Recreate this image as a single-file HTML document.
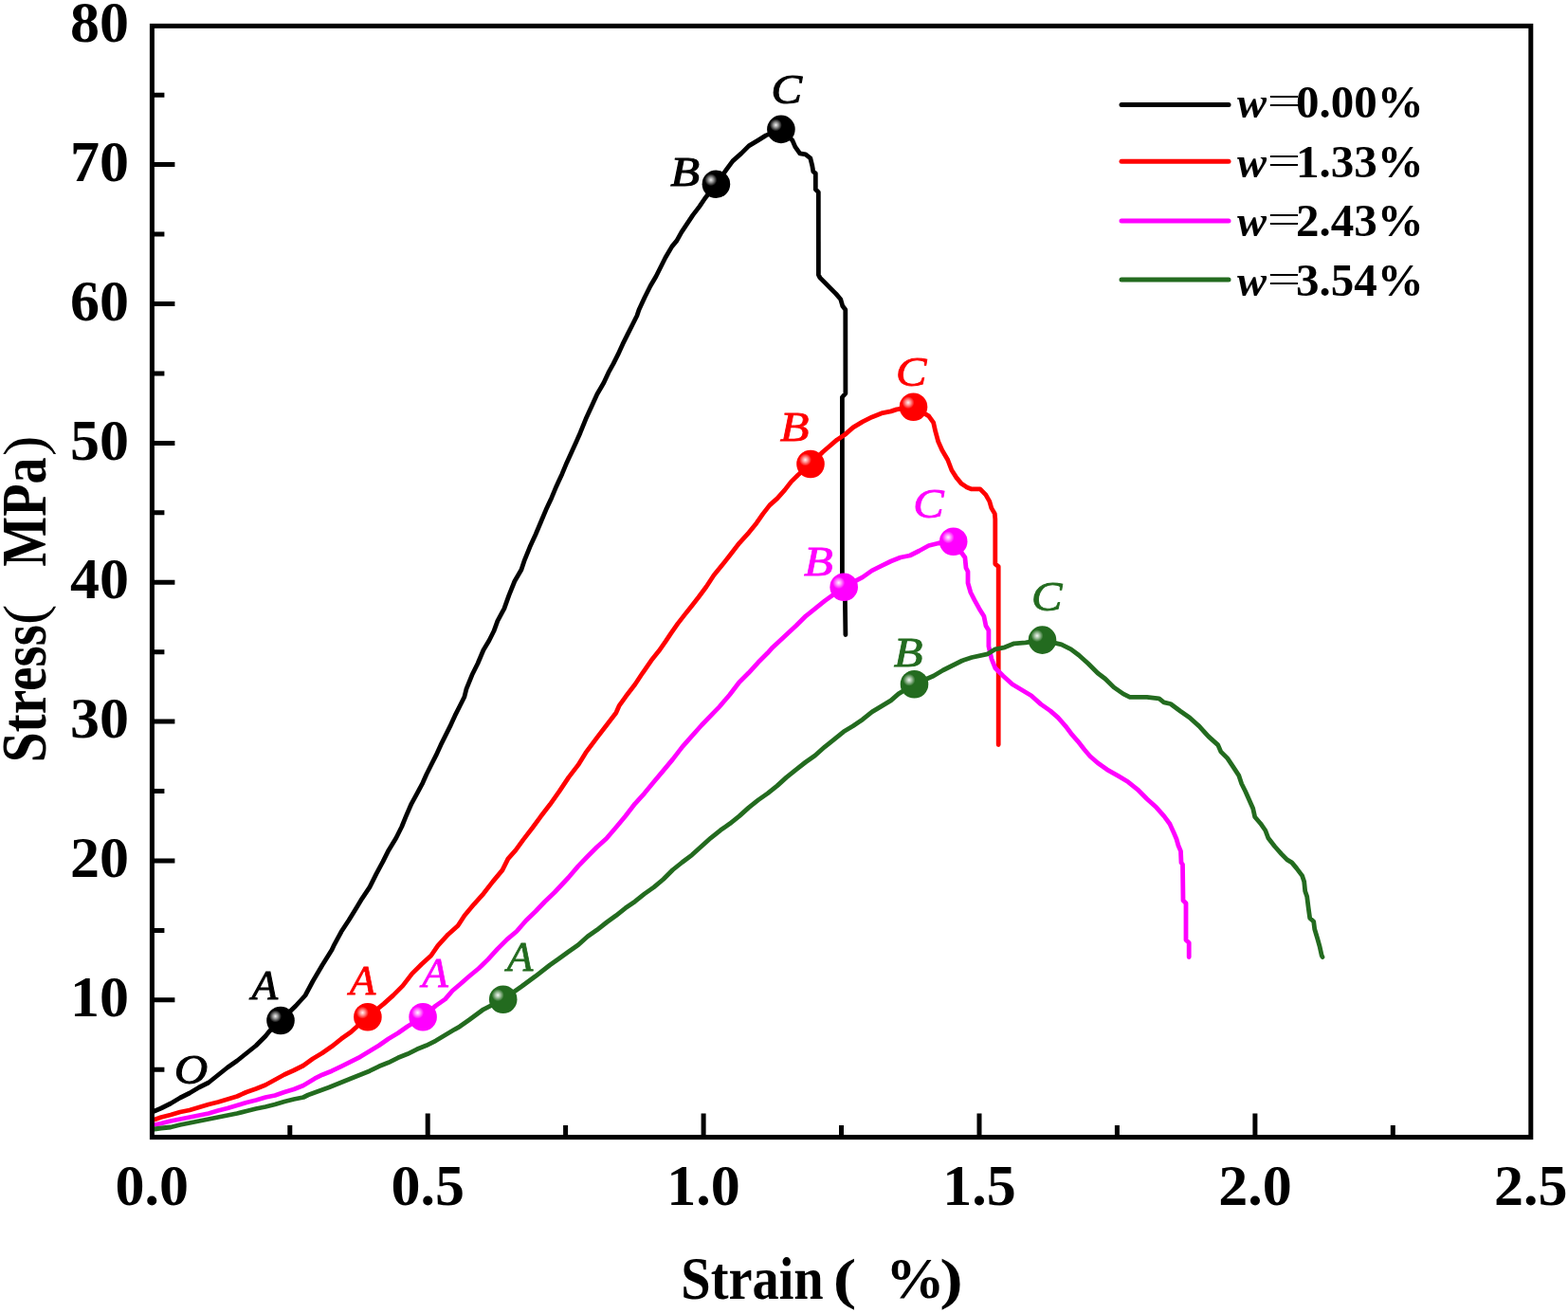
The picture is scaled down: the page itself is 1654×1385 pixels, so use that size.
<!DOCTYPE html>
<html><head><meta charset="utf-8"><title>Stress-strain curves</title>
<style>
html,body{margin:0;padding:0;background:#fff;}
svg{display:block;}
.t{font-family:"Liberation Serif","Times New Roman",serif;font-weight:bold;}
.l{font-family:"Liberation Serif","Times New Roman",serif;font-style:italic;}
</style></head><body>
<svg width="1654" height="1385" viewBox="0 0 1654 1385">
<defs>
<radialGradient id="hlk" cx="0.5" cy="0.5" r="0.5"><stop offset="0" stop-color="#fff" stop-opacity="0.95"/><stop offset="0.45" stop-color="#fff" stop-opacity="0.55"/><stop offset="1" stop-color="#fff" stop-opacity="0"/></radialGradient>
<radialGradient id="hlr" cx="0.5" cy="0.5" r="0.5"><stop offset="0" stop-color="#fff" stop-opacity="0.95"/><stop offset="0.45" stop-color="#fff" stop-opacity="0.55"/><stop offset="1" stop-color="#fff" stop-opacity="0"/></radialGradient>
<radialGradient id="hlm" cx="0.5" cy="0.5" r="0.5"><stop offset="0" stop-color="#fff" stop-opacity="0.95"/><stop offset="0.45" stop-color="#fff" stop-opacity="0.55"/><stop offset="1" stop-color="#fff" stop-opacity="0"/></radialGradient>
<radialGradient id="hlg" cx="0.5" cy="0.5" r="0.5"><stop offset="0" stop-color="#fff" stop-opacity="0.95"/><stop offset="0.45" stop-color="#fff" stop-opacity="0.55"/><stop offset="1" stop-color="#fff" stop-opacity="0"/></radialGradient>
</defs>
<rect width="1654" height="1385" fill="#fff"/>
<text x="160.3" y="1271.3" font-size="62" text-anchor="middle" style="font-family:'Liberation Serif','Times New Roman',serif;font-weight:bold">0.0</text>
<text x="451.2" y="1271.3" font-size="62" text-anchor="middle" style="font-family:'Liberation Serif','Times New Roman',serif;font-weight:bold">0.5</text>
<text x="742.1" y="1271.3" font-size="62" text-anchor="middle" style="font-family:'Liberation Serif','Times New Roman',serif;font-weight:bold">1.0</text>
<text x="1033.0" y="1271.3" font-size="62" text-anchor="middle" style="font-family:'Liberation Serif','Times New Roman',serif;font-weight:bold">1.5</text>
<text x="1323.9" y="1271.3" font-size="62" text-anchor="middle" style="font-family:'Liberation Serif','Times New Roman',serif;font-weight:bold">2.0</text>
<text x="1614.8" y="1271.3" font-size="62" text-anchor="middle" style="font-family:'Liberation Serif','Times New Roman',serif;font-weight:bold">2.5</text>
<text x="136" y="1072.0" font-size="62" text-anchor="end" style="font-family:'Liberation Serif','Times New Roman',serif;font-weight:bold">10</text>
<text x="136" y="925.2" font-size="62" text-anchor="end" style="font-family:'Liberation Serif','Times New Roman',serif;font-weight:bold">20</text>
<text x="136" y="778.3" font-size="62" text-anchor="end" style="font-family:'Liberation Serif','Times New Roman',serif;font-weight:bold">30</text>
<text x="136" y="631.4" font-size="62" text-anchor="end" style="font-family:'Liberation Serif','Times New Roman',serif;font-weight:bold">40</text>
<text x="136" y="484.6" font-size="62" text-anchor="end" style="font-family:'Liberation Serif','Times New Roman',serif;font-weight:bold">50</text>
<text x="136" y="337.7" font-size="62" text-anchor="end" style="font-family:'Liberation Serif','Times New Roman',serif;font-weight:bold">60</text>
<text x="136" y="190.8" font-size="62" text-anchor="end" style="font-family:'Liberation Serif','Times New Roman',serif;font-weight:bold">70</text>
<text x="136" y="43.9" font-size="62" text-anchor="end" style="font-family:'Liberation Serif','Times New Roman',serif;font-weight:bold">80</text>
<text transform="translate(718.31,1370.00) scale(0.8950,1.0000)" font-size="63.00" fill="#000" style="font-family:'Liberation Serif','Times New Roman',serif;font-weight:bold">Strain</text>
<text transform="translate(878.85,1369.30) scale(1.2400,1.0000)" font-size="59.50" fill="#000" style="font-family:'Liberation Serif','Times New Roman',serif;font-weight:bold">(</text>
<text transform="translate(934.29,1369.20) scale(1.0000,1.0000)" font-size="62.20" fill="#000" style="font-family:'Liberation Serif','Times New Roman',serif;font-weight:bold">%</text>
<text transform="translate(991.24,1369.30) scale(1.2400,1.0000)" font-size="59.50" fill="#000" style="font-family:'Liberation Serif','Times New Roman',serif;font-weight:bold">)</text>
<text transform="translate(47.70,804.23) rotate(-90) scale(0.8580,1.0000)" font-size="66.70" fill="#000" style="font-family:'Liberation Serif','Times New Roman',serif;font-weight:bold">Stress</text>
<text transform="translate(46.10,658.93) rotate(-90) scale(1.0500,1.0000)" font-size="61.30" fill="#000" style="font-family:'Liberation Serif','Times New Roman',serif;">(</text>
<text transform="translate(47.70,597.65) rotate(-90) scale(0.8330,1.0000)" font-size="67.30" fill="#000" style="font-family:'Liberation Serif','Times New Roman',serif;font-weight:bold">MPa</text>
<text transform="translate(46.10,481.06) rotate(-90) scale(1.0500,1.0000)" font-size="61.30" fill="#000" style="font-family:'Liberation Serif','Times New Roman',serif;">)</text>
<polyline points="160.5,1173.0 163.0,1172.0 170.0,1169.0 180.0,1164.0 190.0,1158.0 200.0,1153.0 210.0,1147.0 220.0,1142.0 225.0,1138.0 230.0,1134.0 240.0,1126.0 250.0,1119.0 260.0,1111.0 270.0,1103.0 280.0,1093.0 284.0,1088.0 296.0,1076.5 312.0,1061.0 322.0,1050.0 330.0,1035.0 340.0,1018.0 350.0,1002.0 352.0,997.7 360.0,982.8 367.9,970.8 375.9,957.8 381.9,947.8 389.9,935.8 396.9,921.9 403.9,908.9 409.9,896.9 417.8,884.0 423.8,872.0 428.0,861.7 434.0,847.8 440.0,836.8 445.9,825.8 449.9,816.8 454.9,806.8 459.9,796.9 464.9,785.9 469.9,775.9 474.9,765.9 479.9,754.9 484.9,745.0 489.9,735.0 492.0,726.7 498.0,711.8 504.0,699.8 509.9,685.8 515.9,675.8 520.9,665.8 524.9,654.9 531.9,641.9 536.9,627.9 542.9,613.0 549.9,601.0 553.0,591.7 559.0,576.8 565.0,563.8 570.9,549.8 575.9,537.8 581.9,524.9 586.9,512.9 592.9,499.9 597.9,487.9 602.9,477.0 607.9,466.0 612.0,456.7 618.0,441.8 624.0,428.8 629.9,415.8 636.9,403.8 641.9,392.9 646.9,383.9 651.9,373.9 656.9,362.9 661.9,352.9 666.9,343.0 671.9,333.0 674.0,326.7 680.0,313.8 686.0,301.8 691.9,291.8 696.9,281.8 701.9,271.8 708.9,259.9 713.9,253.9 718.9,244.9 724.9,235.9 730.9,226.9 737.8,217.9 743.8,209.0 755.4,194.2 767.0,177.9 772.9,169.9 781.9,161.9 789.9,153.9 799.9,147.9 807.9,142.9 823.9,136.4 835.8,147.9 838.8,154.9 843.8,161.9 849.8,162.9 854.8,166.9 856.8,174.9 857.8,180.9 860.3,182.9 860.3,199.8 863.3,202.8 863.4,289.9 864.9,292.9 869.9,297.9 875.8,303.9 881.8,309.9 886.8,315.8 888.8,322.8 891.8,326.8 891.9,415.0 888.4,419.0 888.4,604.0 891.4,634.0 891.9,669.5" fill="none" stroke="#000000" stroke-width="4.8" stroke-linejoin="round" stroke-linecap="round"/>
<polyline points="160.5,1181.5 163.0,1181.0 170.0,1178.5 180.0,1176.0 190.0,1173.0 200.0,1171.0 210.0,1168.0 220.0,1165.0 230.0,1162.5 240.0,1159.5 250.0,1156.5 260.0,1152.0 270.0,1148.5 280.0,1144.5 290.0,1139.0 300.0,1133.5 310.0,1129.0 320.0,1124.0 330.0,1116.8 340.0,1110.8 350.0,1103.8 360.0,1095.8 370.0,1088.8 387.9,1072.7 404.8,1058.9 414.8,1049.9 424.8,1039.9 434.8,1026.9 444.8,1017.0 454.7,1008.0 461.8,997.7 472.7,985.7 483.0,976.5 490.0,965.8 500.0,953.8 509.9,942.8 519.9,929.9 529.9,917.9 535.9,905.9 543.9,896.9 551.9,885.9 561.8,873.0 570.0,861.8 580.0,848.8 589.9,834.8 599.9,819.9 609.9,806.9 617.9,793.9 629.9,777.9 639.8,765.0 649.8,752.0 653.0,744.7 660.0,734.8 670.0,721.8 677.9,709.8 686.9,696.8 694.9,686.8 701.9,676.9 707.9,667.9 714.9,657.9 721.9,648.9 729.8,638.9 736.8,630.0 745.0,619.0 753.0,606.7 762.0,595.8 769.9,585.8 779.9,572.8 789.9,561.8 797.9,551.9 804.9,541.9 811.9,532.9 819.8,525.9 827.8,516.9 834.8,507.9 841.8,501.0 855.0,489.5 867.9,476.8 874.9,470.8 882.9,463.9 891.9,457.9 899.9,450.9 909.9,444.9 919.8,439.9 929.8,435.9 939.8,433.9 945.8,431.9 963.5,429.2 979.7,438.9 984.7,445.9 986.7,454.9 989.7,465.8 993.7,474.8 999.7,485.0 1003.9,496.0 1008.9,503.9 1013.9,509.9 1019.9,513.9 1024.9,515.9 1033.9,515.9 1039.8,521.9 1043.8,528.9 1045.8,535.9 1049.3,541.9 1049.8,547.8 1049.8,594.8 1053.2,597.7 1053.2,785.5" fill="none" stroke="#ff0000" stroke-width="4.8" stroke-linejoin="round" stroke-linecap="round"/>
<polyline points="160.5,1187.0 163.0,1186.5 170.0,1185.0 180.0,1182.5 190.0,1180.5 200.0,1178.5 210.0,1176.5 220.0,1174.5 230.0,1171.5 240.0,1169.0 250.0,1166.0 260.0,1163.0 270.0,1160.5 280.0,1157.5 290.0,1155.5 300.0,1152.0 310.0,1149.0 320.0,1145.0 332.0,1137.7 340.0,1133.7 350.0,1129.7 360.0,1124.8 370.0,1119.8 380.0,1114.8 389.9,1108.8 399.8,1102.8 409.8,1095.8 419.8,1089.8 429.8,1082.8 446.1,1072.7 459.7,1060.9 469.7,1053.9 477.3,1045.0 485.0,1038.5 494.7,1030.0 505.0,1021.5 514.9,1011.9 524.9,1000.9 534.9,990.9 544.9,982.5 554.9,971.0 564.8,961.5 574.8,951.0 584.8,941.5 599.8,925.5 609.7,913.9 619.7,903.5 629.7,893.5 639.7,884.5 649.8,872.7 659.8,860.8 669.8,847.8 679.8,836.8 689.7,824.8 699.7,812.9 709.7,800.9 719.7,787.9 725.0,781.9 740.0,765.0 757.8,746.7 769.8,732.8 779.7,719.8 789.7,709.8 799.7,698.8 809.7,688.8 815.0,682.9 840.0,659.8 850.0,649.8 860.0,641.9 869.9,633.9 890.2,619.2 909.9,608.9 919.8,601.9 929.8,596.9 939.8,592.0 949.8,588.0 959.8,586.0 969.7,581.0 979.7,575.5 989.8,573.0 1005.7,571.3 1017.9,588.0 1019.0,599.0 1021.0,603.0 1021.0,615.0 1023.9,625.0 1027.9,632.9 1032.9,641.9 1037.9,649.9 1039.9,659.9 1042.9,664.9 1042.9,681.8 1045.9,694.8 1049.9,704.8 1057.9,712.8 1067.8,721.8 1077.8,727.7 1087.8,733.7 1098.0,742.9 1108.0,749.9 1116.0,756.9 1123.9,765.8 1129.9,773.8 1136.9,781.8 1143.9,790.8 1149.9,797.8 1157.9,804.8 1167.8,811.8 1179.8,818.7 1190.0,824.8 1200.0,832.8 1209.9,842.8 1219.9,851.8 1227.9,860.8 1233.9,869.0 1238.0,878.0 1241.0,885.0 1243.0,892.0 1245.5,897.9 1246.0,909.9 1247.5,911.9 1248.0,949.8 1251.0,952.8 1251.0,991.5 1254.2,994.5 1254.2,1009.5" fill="none" stroke="#ff00ff" stroke-width="4.8" stroke-linejoin="round" stroke-linecap="round"/>
<polyline points="160.5,1191.5 163.0,1191.0 170.0,1190.0 180.0,1189.0 190.0,1186.5 200.0,1184.5 210.0,1182.5 220.0,1180.5 230.0,1178.5 240.0,1176.5 250.0,1174.5 260.0,1172.0 270.0,1169.5 280.0,1167.5 290.0,1165.0 300.0,1162.0 310.0,1159.5 320.0,1157.5 325.0,1155.0 347.0,1147.0 369.9,1137.7 379.9,1133.7 389.9,1129.7 399.8,1124.8 409.8,1120.8 419.8,1115.8 429.8,1111.8 439.8,1106.8 449.7,1102.8 459.7,1097.8 469.7,1091.8 479.7,1085.8 485.0,1082.8 495.0,1075.7 509.9,1064.8 530.7,1054.2 549.9,1040.8 564.8,1029.8 580.0,1018.0 589.9,1011.0 599.9,1003.7 609.9,996.8 619.9,987.8 629.9,980.8 639.8,973.0 649.8,965.8 659.8,957.8 669.8,950.9 679.8,942.9 689.7,935.9 699.7,927.5 709.7,917.5 719.7,909.5 729.9,901.8 739.9,892.8 749.9,883.8 759.9,875.8 769.9,868.8 779.8,860.9 789.8,851.9 799.8,843.9 809.8,836.9 819.8,828.9 829.7,819.9 839.7,811.9 849.7,804.0 859.7,797.0 870.0,787.8 880.0,779.8 889.9,771.8 899.9,765.8 909.9,758.9 919.9,750.9 929.9,744.9 939.8,738.9 947.8,731.9 964.5,721.7 984.7,713.0 994.7,707.0 1004.7,702.0 1014.7,697.0 1025.0,693.5 1041.9,689.8 1049.9,684.8 1059.9,682.8 1069.8,678.8 1081.8,677.8 1099.5,675.1 1119.7,679.8 1129.7,684.8 1137.9,691.0 1147.9,700.0 1157.9,710.0 1165.8,716.0 1174.8,724.9 1184.8,731.9 1191.8,735.4 1209.8,735.4 1222.7,736.9 1227.7,740.9 1234.8,742.5 1244.9,750.0 1254.9,757.0 1264.8,765.9 1274.8,776.9 1284.8,785.9 1287.8,792.9 1294.8,799.9 1300.8,808.9 1306.7,817.8 1309.7,826.8 1313.7,834.8 1317.7,843.8 1321.7,852.8 1323.7,861.8 1329.7,868.7 1334.8,876.0 1337.8,884.0 1344.8,893.0 1351.8,900.9 1357.7,906.9 1362.7,909.9 1367.7,915.9 1373.7,923.9 1375.7,929.9 1376.7,939.9 1378.7,945.8 1380.2,957.8 1381.7,968.5 1385.7,972.0 1386.7,980.0 1389.7,990.0 1392.2,998.9 1394.2,1007.9 1395.0,1009.5" fill="none" stroke="#236b1f" stroke-width="4.8" stroke-linejoin="round" stroke-linecap="round"/>
<rect x="160.4" y="27.4" width="1454.4" height="1172.2" fill="none" stroke="#000" stroke-width="5"/>
<path d="M305.8 1199.6V1187.1 M451.2 1199.6V1174.6 M596.6 1199.6V1187.1 M742.1 1199.6V1174.6 M887.5 1199.6V1187.1 M1033.0 1199.6V1174.6 M1178.4 1199.6V1187.1 M1323.9 1199.6V1174.6 M1469.3 1199.6V1187.1 M160.4 1128.3H173.4 M160.4 1054.8H184.4 M160.4 981.4H173.4 M160.4 908.0H184.4 M160.4 834.5H173.4 M160.4 761.1H184.4 M160.4 687.7H173.4 M160.4 614.2H184.4 M160.4 540.8H173.4 M160.4 467.4H184.4 M160.4 393.9H173.4 M160.4 320.5H184.4 M160.4 247.0H173.4 M160.4 173.6H184.4 M160.4 100.2H173.4" stroke="#000" stroke-width="5" fill="none"/>
<circle cx="296.0" cy="1076.5" r="14.8" fill="#000000"/><circle cx="290.5" cy="1072.0" r="6.5" fill="url(#hlk)"/>
<circle cx="755.4" cy="194.2" r="14.8" fill="#000000"/><circle cx="749.9" cy="189.7" r="6.5" fill="url(#hlk)"/>
<circle cx="823.9" cy="136.4" r="14.8" fill="#000000"/><circle cx="818.4" cy="131.9" r="6.5" fill="url(#hlk)"/>
<circle cx="387.9" cy="1072.7" r="14.8" fill="#ff0000"/><circle cx="382.4" cy="1068.2" r="6.5" fill="url(#hlr)"/>
<circle cx="855.0" cy="489.5" r="14.8" fill="#ff0000"/><circle cx="849.5" cy="485.0" r="6.5" fill="url(#hlr)"/>
<circle cx="963.5" cy="429.2" r="14.8" fill="#ff0000"/><circle cx="958.0" cy="424.7" r="6.5" fill="url(#hlr)"/>
<circle cx="446.1" cy="1072.7" r="14.8" fill="#ff00ff"/><circle cx="440.6" cy="1068.2" r="6.5" fill="url(#hlm)"/>
<circle cx="890.2" cy="619.2" r="14.8" fill="#ff00ff"/><circle cx="884.7" cy="614.7" r="6.5" fill="url(#hlm)"/>
<circle cx="1005.7" cy="571.3" r="14.8" fill="#ff00ff"/><circle cx="1000.2" cy="566.8" r="6.5" fill="url(#hlm)"/>
<circle cx="530.7" cy="1054.2" r="14.8" fill="#236b1f"/><circle cx="525.2" cy="1049.7" r="6.5" fill="url(#hlg)"/>
<circle cx="964.5" cy="721.7" r="14.8" fill="#236b1f"/><circle cx="959.0" cy="717.2" r="6.5" fill="url(#hlg)"/>
<circle cx="1099.5" cy="675.1" r="14.8" fill="#236b1f"/><circle cx="1094.0" cy="670.6" r="6.5" fill="url(#hlg)"/>
<text transform="translate(184.07,1142.70) scale(1.0800,1.0000)" font-size="45.00" fill="#000000" style="font-family:'Liberation Serif','Times New Roman',serif;font-style:italic" stroke="#000000" stroke-width="1.1">O</text>
<text transform="translate(265.38,1054.10) scale(1.0000,1.0000)" font-size="45.00" fill="#000000" style="font-family:'Liberation Serif','Times New Roman',serif;font-style:italic" stroke="#000000" stroke-width="1.1">A</text>
<text transform="translate(707.25,195.70) scale(1.1200,1.0000)" font-size="45.00" fill="#000000" style="font-family:'Liberation Serif','Times New Roman',serif;font-style:italic" stroke="#000000" stroke-width="1.1">B</text>
<text transform="translate(813.48,108.70) scale(1.0800,1.0000)" font-size="45.00" fill="#000000" style="font-family:'Liberation Serif','Times New Roman',serif;font-style:italic" stroke="#000000" stroke-width="1.1">C</text>
<text transform="translate(368.77,1048.80) scale(1.0000,1.0000)" font-size="45.00" fill="#ff0000" style="font-family:'Liberation Serif','Times New Roman',serif;font-style:italic" stroke="#ff0000" stroke-width="0.8">A</text>
<text transform="translate(822.85,464.80) scale(1.1200,1.0000)" font-size="45.00" fill="#ff0000" style="font-family:'Liberation Serif','Times New Roman',serif;font-style:italic" stroke="#ff0000" stroke-width="0.8">B</text>
<text transform="translate(944.98,406.80) scale(1.0800,1.0000)" font-size="45.00" fill="#ff0000" style="font-family:'Liberation Serif','Times New Roman',serif;font-style:italic" stroke="#ff0000" stroke-width="0.8">C</text>
<text transform="translate(445.18,1040.50) scale(1.0000,1.0000)" font-size="45.00" fill="#ff00ff" style="font-family:'Liberation Serif','Times New Roman',serif;font-style:italic" stroke="#ff00ff" stroke-width="0.8">A</text>
<text transform="translate(847.95,606.50) scale(1.1200,1.0000)" font-size="45.00" fill="#ff00ff" style="font-family:'Liberation Serif','Times New Roman',serif;font-style:italic" stroke="#ff00ff" stroke-width="0.8">B</text>
<text transform="translate(963.18,546.00) scale(1.0800,1.0000)" font-size="45.00" fill="#ff00ff" style="font-family:'Liberation Serif','Times New Roman',serif;font-style:italic" stroke="#ff00ff" stroke-width="0.8">C</text>
<text transform="translate(534.77,1023.90) scale(1.0000,1.0000)" font-size="45.00" fill="#236b1f" style="font-family:'Liberation Serif','Times New Roman',serif;font-style:italic" stroke="#236b1f" stroke-width="0.8">A</text>
<text transform="translate(942.75,702.80) scale(1.1200,1.0000)" font-size="45.00" fill="#236b1f" style="font-family:'Liberation Serif','Times New Roman',serif;font-style:italic" stroke="#236b1f" stroke-width="0.8">B</text>
<text transform="translate(1087.98,644.10) scale(1.0800,1.0000)" font-size="45.00" fill="#236b1f" style="font-family:'Liberation Serif','Times New Roman',serif;font-style:italic" stroke="#236b1f" stroke-width="0.8">C</text>
<line x1="1183" y1="110.5" x2="1296" y2="110.5" stroke="#000000" stroke-width="5" stroke-linecap="round"/>
<text transform="translate(1305.05,124.00) scale(1.0000,1.0000)" font-size="46.50" fill="#000" style="font-family:'Liberation Serif','Times New Roman',serif;font-weight:bold;font-style:italic">w</text>
<text transform="translate(1336.87,119.70) scale(1.5100,1.0000)" font-size="41.50" fill="#000" style="font-family:'Liberation Serif','Times New Roman',serif;">=</text>
<text x="1367" y="123.7" font-size="49" style="font-family:'Liberation Serif','Times New Roman',serif;font-weight:bold">0.00%</text>
<line x1="1183" y1="170.3" x2="1296" y2="170.3" stroke="#ff0000" stroke-width="5" stroke-linecap="round"/>
<text transform="translate(1305.05,186.90) scale(1.0000,1.0000)" font-size="46.50" fill="#000" style="font-family:'Liberation Serif','Times New Roman',serif;font-weight:bold;font-style:italic">w</text>
<text transform="translate(1336.87,182.60) scale(1.5100,1.0000)" font-size="41.50" fill="#000" style="font-family:'Liberation Serif','Times New Roman',serif;">=</text>
<text x="1367" y="186.6" font-size="49" style="font-family:'Liberation Serif','Times New Roman',serif;font-weight:bold">1.33%</text>
<line x1="1183" y1="232.9" x2="1296" y2="232.9" stroke="#ff00ff" stroke-width="5" stroke-linecap="round"/>
<text transform="translate(1305.05,249.40) scale(1.0000,1.0000)" font-size="46.50" fill="#000" style="font-family:'Liberation Serif','Times New Roman',serif;font-weight:bold;font-style:italic">w</text>
<text transform="translate(1336.87,245.10) scale(1.5100,1.0000)" font-size="41.50" fill="#000" style="font-family:'Liberation Serif','Times New Roman',serif;">=</text>
<text x="1367" y="249.1" font-size="49" style="font-family:'Liberation Serif','Times New Roman',serif;font-weight:bold">2.43%</text>
<line x1="1183" y1="295.0" x2="1296" y2="295.0" stroke="#236b1f" stroke-width="5" stroke-linecap="round"/>
<text transform="translate(1305.05,312.30) scale(1.0000,1.0000)" font-size="46.50" fill="#000" style="font-family:'Liberation Serif','Times New Roman',serif;font-weight:bold;font-style:italic">w</text>
<text transform="translate(1336.87,308.00) scale(1.5100,1.0000)" font-size="41.50" fill="#000" style="font-family:'Liberation Serif','Times New Roman',serif;">=</text>
<text x="1367" y="312.0" font-size="49" style="font-family:'Liberation Serif','Times New Roman',serif;font-weight:bold">3.54%</text>
</svg>
</body></html>
